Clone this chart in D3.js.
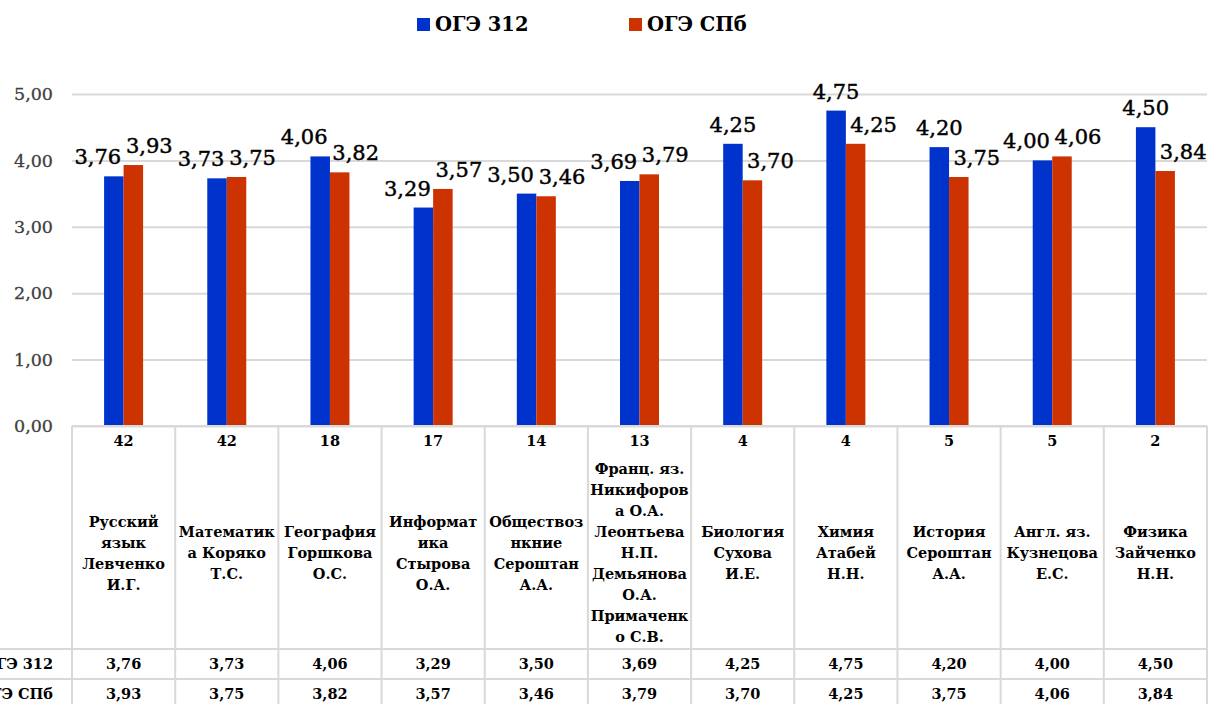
<!DOCTYPE html>
<html><head><meta charset="utf-8">
<script src="https://cdn.jsdelivr.net/npm/d3@7"></script>
<style>
html,body{margin:0;padding:0;background:#fff;overflow:hidden;}
svg{display:block;font-family:"DejaVu Serif",serif;}
</style></head>
<body><svg id="chart" width="1211" height="704"></svg>
<script>
const categories = [
  ["Русский","язык","Левченко","И.Г."],
  ["Математик","а Коряко","Т.С."],
  ["География","Горшкова","О.С."],
  ["Информат","ика","Стырова","О.А."],
  ["Обществоз","нкние","Сероштан","А.А."],
  ["Франц. яз.","Никифоров","а О.А.","Леонтьева","Н.П.","Демьянова","О.А.","Примаченк","о С.В."],
  ["Биология","Сухова","И.Е."],
  ["Химия","Атабей","Н.Н."],
  ["История","Сероштан","А.А."],
  ["Англ. яз.","Кузнецова","Е.С."],
  ["Физика","Зайченко","Н.Н."]
];
const counts = ["42","42","18","17","14","13","4","4","5","5","2"];
const seriesNames = ["ОГЭ 312","ОГЭ СПб"];
const oge312 = [3.76,3.73,4.06,3.29,3.50,3.69,4.25,4.75,4.20,4.00,4.50];
const ogeSPb = [3.93,3.75,3.82,3.57,3.46,3.79,3.70,4.25,3.75,4.06,3.84];
const yTicks = [0,1,2,3,4,5];
const colors = ["#0033CC","#CC3300"];

const fmt = v => v.toFixed(2).replace(".", ",");
const svg = d3.select("#chart");
const L = 72, R = 1207, T = 94, B = 426;
const idx = d3.range(categories.length);
const x0 = d3.scaleBand().domain(idx).range([L, R]).padding(0);
const groupW = 39;
const x1 = d3.scaleBand().domain([0,1]).range([0, groupW]);
const y = d3.scaleLinear().domain([0,5]).range([B, T]);
const gridColor = "#d9d9d9";

// gridlines
const yAxis = d3.axisLeft(y).tickValues(yTicks).tickSize(-(R-L)).tickFormat(fmt).tickPadding(19);
const ga = svg.append("g").attr("transform",`translate(${L},0)`).call(yAxis);
ga.select(".domain").remove();
ga.selectAll(".tick line").attr("stroke",gridColor).attr("stroke-width",2);
ga.selectAll(".tick text").attr("fill","#404040").attr("font-size",17.5)
  .attr("font-family","DejaVu Serif").attr("stroke","#404040").attr("stroke-width",0.3);

// bars
const data = idx.map(i => ({i, vals:[oge312[i], ogeSPb[i]]}));
const g = svg.append("g");
data.forEach(d => {
  const gx = x0(d.i) + (x0.bandwidth()-groupW)/2;
  d.vals.forEach((v,s) => {
    g.append("rect")
      .attr("x", gx + x1(s)).attr("width", x1.bandwidth())
      .attr("y", y(v)).attr("height", y(0)-y(v))
      .attr("fill", colors[s]);
  });
  const [b, r] = d.vals;
  const dxB = (b - r > 0.3) ? 0 : -16;
  const dxR = (b - r > 0.3) ? 18 : 16;
  const dxs = [dxB, dxR];
  d.vals.forEach((v,s) => {
    g.append("text")
      .attr("x", gx + x1(s) + x1.bandwidth()/2 + dxs[s])
      .attr("y", y(v) - 12)
      .attr("text-anchor","middle")
      .attr("font-size",21)
      .attr("fill","#000").attr("stroke","#000").attr("stroke-width",0.45)
      .text(fmt(v));
  });
});

// table
const tg = svg.append("g");
const catBottom = 649, row1Bottom = 679, row2Bottom = 709;
tg.append("line").attr("x1",L).attr("x2",R).attr("y1",B).attr("y2",B).attr("stroke",gridColor).attr("stroke-width",2);
[catBottom, row1Bottom, row2Bottom].forEach(yy => {
  tg.append("line").attr("x1",0).attr("x2",R).attr("y1",yy).attr("y2",yy).attr("stroke",gridColor).attr("stroke-width",2);
});
idx.concat([categories.length]).forEach(i => {
  const xx = i < categories.length ? x0(i) : R;
  tg.append("line").attr("x1",xx).attr("x2",xx).attr("y1",B).attr("y2",704).attr("stroke",gridColor).attr("stroke-width",2);
});
const tableFont = 14.5;
idx.forEach(i => {
  const cx = x0(i) + x0.bandwidth()/2;
  tg.append("text").attr("x",cx).attr("y",446).attr("text-anchor","middle")
    .attr("font-size",tableFont).attr("font-weight","bold").text(counts[i]);
  const lines = categories[i];
  const lh = 21;
  const mid = 553;
  const t = tg.append("text").attr("text-anchor","middle").attr("font-size",tableFont).attr("font-weight","bold");
  lines.forEach((ln,k) => {
    t.append("tspan").attr("x",cx).attr("y", mid + (k - (lines.length-1)/2)*lh + 5).text(ln);
  });
  tg.append("text").attr("x",cx).attr("y",(catBottom+row1Bottom)/2+5).attr("text-anchor","middle")
    .attr("font-size",tableFont).attr("font-weight","bold").text(fmt(oge312[i]));
  tg.append("text").attr("x",cx).attr("y",(row1Bottom+row2Bottom)/2+5).attr("text-anchor","middle")
    .attr("font-size",tableFont).attr("font-weight","bold").text(fmt(ogeSPb[i]));
});
tg.append("text").attr("x",53).attr("y",(catBottom+row1Bottom)/2+5).attr("text-anchor","end")
  .attr("font-size",tableFont).attr("font-weight","bold").text(seriesNames[0]);
tg.append("text").attr("x",53).attr("y",(row1Bottom+row2Bottom)/2+5).attr("text-anchor","end")
  .attr("font-size",tableFont).attr("font-weight","bold").text(seriesNames[1]);

// legend
const legX = [417, 629];
seriesNames.forEach((n,s) => {
  const lg = svg.append("g").attr("transform",`translate(${legX[s]},18)`);
  lg.append("rect").attr("width",13).attr("height",13).attr("fill",colors[s]);
  lg.append("text").attr("x",18).attr("y",13).attr("font-size",19.5).attr("font-weight","bold").text(n);
});
</script></body></html>
